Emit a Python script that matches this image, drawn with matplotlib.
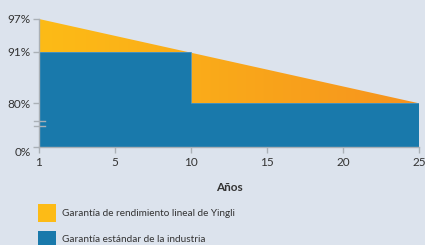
import matplotlib.pyplot as plt
import matplotlib.transforms as mtransforms
import numpy as np
from matplotlib.colors import LinearSegmentedColormap
from matplotlib.patches import Polygon, Rectangle

# data
yingli_years = [1, 25]
yingli = [97, 80]                  # linear warranty, 1 -> 25
industry_years = [1, 10, 10, 25]
industry = [91, 91, 80, 80]        # standard step warranty
yticks = [0, 80, 91, 97]
ytick_labels = ["0%", "80%", "91%", "97%"]
xticks = [1, 5, 10, 15, 20, 25]
legend_labels = ["Garantía de rendimiento lineal de Yingli",
                 "Garantía estándar de la industria"]

bg = "#dce3ed"
blue = "#1979ab"
yellow_l = "#fdbb16"
yellow_r = "#f6931e"
grey = "#aab0b6"
text_c = "#333333"

plt.rcParams["font.family"] = ["Lato", "DejaVu Sans"]

# broken axes: ticks sit where the original put them
y_knots = [0, 80, 91, 97]
y_pos = [0, 43.7, 95.3, 128]
x_knots = [1, 5, 25]
x_pos = [0, 5, 25]


def yf(v):
    return np.interp(v, y_knots, y_pos)


def yi(u):
    return np.interp(u, y_pos, y_knots)


def xf(v):
    return np.interp(v, x_knots, x_pos)


def xi(u):
    return np.interp(u, x_pos, x_knots)


fig = plt.figure(figsize=(4.25, 2.45), dpi=100, facecolor=bg)
ax = fig.add_axes([39 / 425, 98 / 245, 380 / 425, 128 / 245])
ax.set_facecolor(bg)
ax.set_xscale("function", functions=(xf, xi))
ax.set_yscale("function", functions=(yf, yi))
ax.set_xlim(1, 25)
ax.set_ylim(0, 97)

# yellow wedge with horizontal gradient
pts = [(yingli_years[0], yingli[0]), (yingli_years[-1], yingli[-1]),
       (yingli_years[-1], 0), (yingli_years[0], 0)]
clip = Polygon(pts, closed=True, transform=ax.transData,
               facecolor="none", edgecolor="none")
ax.add_patch(clip)
cmap = LinearSegmentedColormap.from_list("yl", [yellow_l, yellow_r])
grad = np.linspace(0, 1, 256).reshape(1, -1)
img = ax.imshow(grad, cmap=cmap, aspect="auto", extent=[1, 25, 0, 97],
                origin="lower", zorder=1)
img.set_clip_path(clip)

# industry standard step area
ax.fill_between(industry_years, 0, industry, color=blue, lw=0, zorder=2)
ax.plot(industry_years, industry, color="#4d94bd", lw=0.6, zorder=3)

for s in ["top", "right"]:
    ax.spines[s].set_visible(False)
for s in ["left", "bottom"]:
    ax.spines[s].set_color(grey)
    ax.spines[s].set_linewidth(1)
    ax.spines[s].set_zorder(4)

ax.set_yticks(yticks)
ax.set_yticklabels(ytick_labels)
ax.yaxis.set_minor_locator(plt.NullLocator())
ax.set_xticks(xticks)
ax.set_xticklabels([str(t) for t in xticks])
ax.xaxis.set_minor_locator(plt.NullLocator())
ax.tick_params(axis="both", colors=grey, labelcolor=text_c, labelsize=8.5,
               length=4, width=1)
ax.tick_params(axis="x", pad=3)
ax.tick_params(axis="y", pad=2)

# the 0% label sits a little below its tick
lab0 = ax.get_yticklabels()[0]
lab0.set_transform(lab0.get_transform() + mtransforms.ScaledTranslation(
    0, -5 / 100, fig.dpi_scale_trans))

# axis break mark
for yb in [48, 39]:
    ax.plot([-0.012, 0.016], [yb, yb], color=grey, lw=1,
            transform=ax.get_yaxis_transform(), clip_on=False, zorder=5)

ax.set_xlabel("Años", fontsize=8.5, fontweight="bold", color=text_c,
              labelpad=10.5)

# legend, laid out in figure pixels
for i, (lab, col) in enumerate(zip(legend_labels, [yellow_l, blue])):
    top = 204 + i * 26.7
    fig.add_artist(Rectangle((38 / 425, 1 - (top + 17.5) / 245), 18 / 425,
                             17.5 / 245, transform=fig.transFigure,
                             facecolor=col, edgecolor="none"))
    fig.text(62 / 425, 1 - (top + 9) / 245, lab, fontsize=7.2, color=text_c,
             va="center", ha="left")

fig.savefig("out.png", dpi=100, facecolor=bg)
